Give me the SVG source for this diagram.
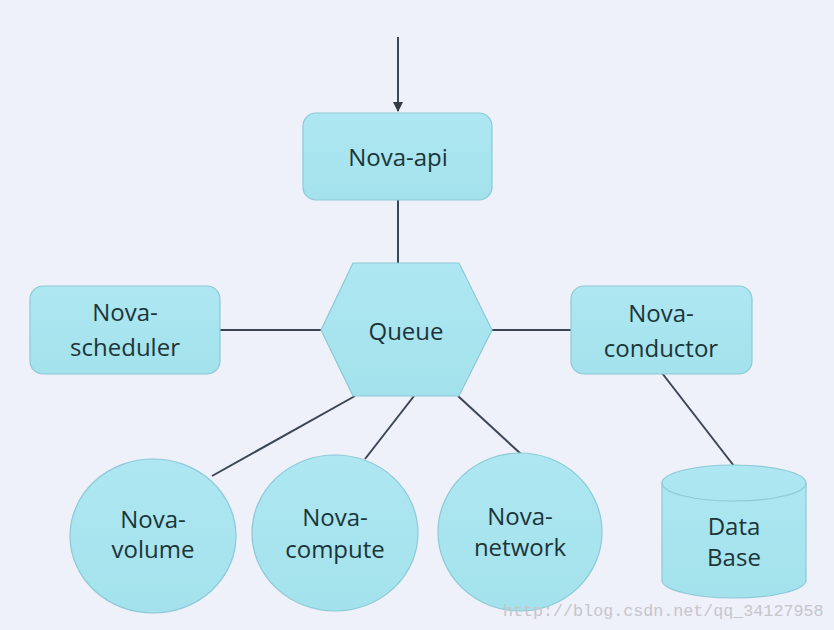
<svg xmlns="http://www.w3.org/2000/svg" width="834" height="630" viewBox="0 0 834 630">
<defs>
<linearGradient id="g" x1="0" y1="0" x2="0" y2="1">
<stop offset="0" stop-color="#aee7f2"/>
<stop offset="1" stop-color="#a3e2ec"/>
</linearGradient>
<marker id="arr" viewBox="0 0 10 10" refX="9" refY="5" markerWidth="5" markerHeight="5" orient="auto">
<path d="M0,0 L10,5 L0,10 z" fill="#333a44"/>
</marker>
<style>
.n{fill:url(#g);stroke:#8ccad6;stroke-width:1.2}
.t{font-family:"Open Sans","Noto Sans",sans-serif;font-size:24px;fill:#1c3538;text-anchor:middle}
.c{stroke:#3b4654;stroke-width:2;fill:none}
</style>
</defs>
<rect width="834" height="630" fill="#eef0fa"/>
<g id="connectors">
<line class="c" x1="398" y1="37" x2="398" y2="111" marker-end="url(#arr)"/>
<line class="c" x1="398" y1="200" x2="398" y2="263"/>
<line class="c" x1="220" y1="330" x2="321" y2="330"/>
<line class="c" x1="492" y1="330" x2="571" y2="330"/>
<line class="c" x1="662" y1="373" x2="734" y2="466"/>
<line class="c" x1="355" y1="396" x2="212" y2="476"/>
<line class="c" x1="414" y1="396" x2="365" y2="459"/>
<line class="c" x1="458" y1="396" x2="521" y2="454"/>
</g>
<g id="nova-api">
<rect class="n" x="303" y="113" width="189" height="87" rx="13"/>
<text class="t" x="398" y="166">Nova-api</text>
</g>
<g id="queue">
<polygon class="n" points="353,263 459,263 492,330 459,396 353,396 321,330"/>
<text class="t" x="406" y="340">Queue</text>
</g>
<g id="nova-scheduler">
<rect class="n" x="30" y="286" width="190" height="88" rx="13"/>
<text class="t" x="125" y="321">Nova-</text>
<text class="t" x="125" y="356">scheduler</text>
</g>
<g id="nova-conductor">
<rect class="n" x="571" y="286" width="181" height="88" rx="13"/>
<text class="t" x="661" y="322">Nova-</text>
<text class="t" x="661" y="357">conductor</text>
</g>
<g id="nova-volume">
<ellipse class="n" cx="153" cy="536" rx="83" ry="77"/>
<text class="t" x="153" y="528">Nova-</text>
<text class="t" x="153" y="558">volume</text>
</g>
<g id="nova-compute">
<ellipse class="n" cx="335" cy="533" rx="83" ry="78"/>
<text class="t" x="335" y="526">Nova-</text>
<text class="t" x="335" y="558">compute</text>
</g>
<g id="nova-network">
<ellipse class="n" cx="520" cy="532" rx="82" ry="79"/>
<text class="t" x="520" y="525">Nova-</text>
<text class="t" x="520" y="556">network</text>
</g>
<g id="database">
<path class="n" d="M662,483 L662,580 A72,18 0 0 0 806,580 L806,483 A72,18 0 0 0 662,483 z"/>
<path d="M662,483 A72,18 0 0 0 806,483" fill="none" stroke="#8ccad6" stroke-width="1.2"/>
<text class="t" x="734" y="535">Data</text>
<text class="t" x="734" y="566">Base</text>
</g>
<text x="503" y="616" font-family="'Liberation Mono',monospace" font-size="16.7" fill="#c6c6cc">http://blog.csdn.net/qq_34127958</text>
</svg>
